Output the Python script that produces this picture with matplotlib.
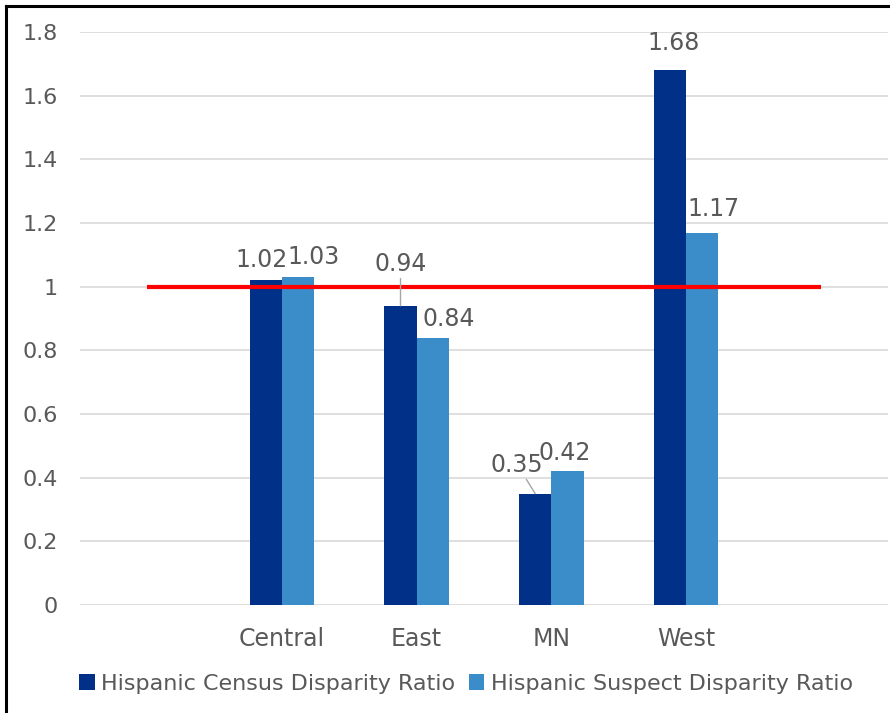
import numpy as np
import matplotlib
matplotlib.use("Agg")
import matplotlib.pyplot as plt
from matplotlib.lines import Line2D

# ---- data ----
categories = ["", "Central", "East", "MN", "West", ""]
census_ratio = [np.nan, 1.02, 0.94, 0.35, 1.68, np.nan]
suspect_ratio = [np.nan, 1.03, 0.84, 0.42, 1.17, np.nan]
reference_level = [1, 1, 1, 1, 1, 1]
y_ticks = [0, 0.2, 0.4, 0.6, 0.8, 1, 1.2, 1.4, 1.6, 1.8]
y_tick_labels = ["0", "0.2", "0.4", "0.6", "0.8", "1", "1.2", "1.4", "1.6", "1.8"]
series_names = ["Hispanic Census Disparity Ratio", "Hispanic Suspect Disparity Ratio"]

plt.rcParams["font.family"] = ["DejaVu Sans"]

DARK = "#003087"
LIGHT = "#3A8DC8"
TEXT = "#595959"
PX = 0.72  # points per pixel at 100 dpi

W, H = 890, 713
fig = plt.figure(figsize=(W / 100, H / 100), dpi=100)
ax = fig.add_axes([80 / W, (H - 605) / H, (888 - 80) / W, (605 - 32) / H])

x = np.arange(len(categories))
bw = 0.24
b1 = ax.bar(x - bw / 2, census_ratio, bw, color=DARK, label=series_names[0], zorder=2)
b2 = ax.bar(x + bw / 2, suspect_ratio, bw, color=LIGHT, label=series_names[1], zorder=2)
ax.plot(x, reference_level, color="#FF0000", lw=3, zorder=3, solid_capstyle="butt")

ax.set_xlim(-0.5, len(categories) - 0.5)
ax.set_ylim(0, 1.8)
ax.set_yticks(y_ticks)
ax.set_yticklabels(y_tick_labels)
ax.set_xticks(x)
ax.set_xticklabels(categories)
ax.yaxis.grid(True, color="#D9D9D9", lw=1.2, zorder=0)
ax.set_axisbelow(True)
for s in ax.spines.values():
    s.set_visible(False)
ax.tick_params(axis="both", length=0, colors=TEXT)
ax.tick_params(axis="y", labelsize=16, pad=16)
ax.tick_params(axis="x", labelsize=17, pad=16)

# data labels (pixel offsets from bar tops; some use leader lines)
label_offsets = {
    (0, 1): (-4, 8, False), (1, 1): (15, 8, False),
    (0, 2): (0, 30, True), (1, 2): (16, 7, False),
    (0, 3): (-18, 17, True), (1, 3): (-3, 6, False),
    (0, 4): (4, 15, False), (1, 4): (11, 12, False),
}
for si, (vals, offs) in enumerate([(census_ratio, -bw / 2), (suspect_ratio, bw / 2)]):
    for ci, v in enumerate(vals):
        if np.isnan(v):
            continue
        dx, dy, leader = label_offsets[(si, ci)]
        ax.annotate(f"{v:.2f}", xy=(ci + offs, v), xytext=(dx * PX, dy * PX),
                    textcoords="offset points", ha="center", va="bottom",
                    fontsize=17, color=TEXT, zorder=4,
                    arrowprops=dict(arrowstyle="-", color="#A6A6A6", lw=1,
                                    shrinkA=0, shrinkB=0) if leader else None)

fig.legend(handles=[b1, b2], loc="center", bbox_to_anchor=(466 / W, 1 - 684 / H),
           ncol=2, frameon=False, fontsize=16, handlelength=0.7, handleheight=0.7,
           handletextpad=0.3, columnspacing=0.6, labelcolor=TEXT)

# frame on the left and top edges
fig.add_artist(Line2D([6 / W, 6 / W], [0, 1 - 6 / H], color="black", lw=2.2,
                      transform=fig.transFigure))
fig.add_artist(Line2D([6 / W, 1], [1 - 6 / H, 1 - 6 / H], color="black", lw=2.2,
                      transform=fig.transFigure))

fig.savefig("out.png", dpi=100, facecolor="white")
